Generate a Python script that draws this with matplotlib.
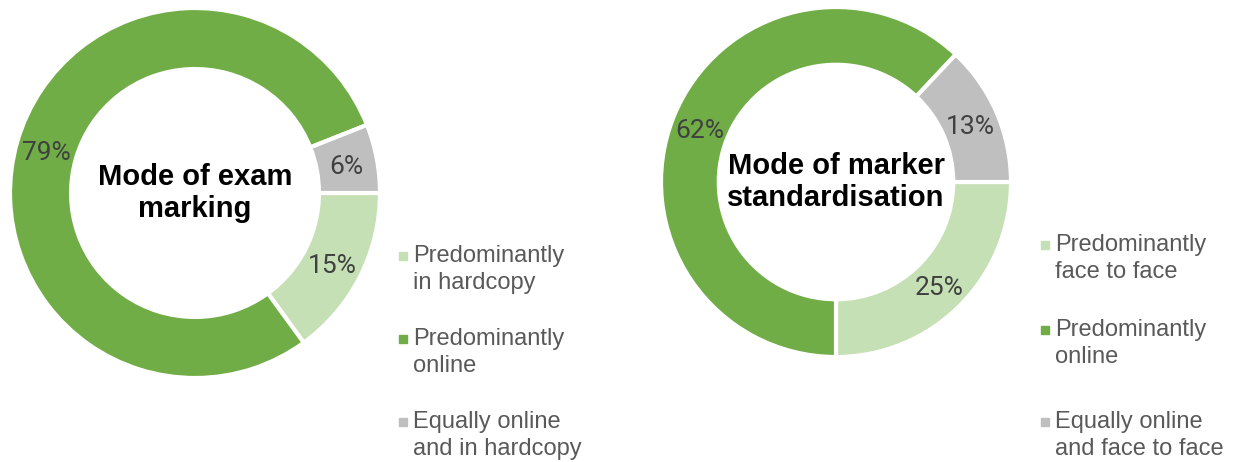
import matplotlib.pyplot as plt
from matplotlib.patches import Rectangle


# ============================================================
# DATA
# ============================================================

marking_labels = [
    "Predominantly\nin hardcopy",
    "Predominantly\nonline",
    "Equally online\nand in hardcopy",
]
marking_values = [15, 79, 6]

standard_labels = [
    "Predominantly\nface to face",
    "Predominantly\nonline",
    "Equally online\nand face to face",
]
standard_values = [25, 62, 13]

titles = ["Mode of exam\nmarking", "Mode of marker\nstandardisation"]

colors = ["#C5E0B4", "#70AD47", "#BFBFBF"]


# ============================================================
# FIGURE
# ============================================================

W, H = 1234, 462

fig = plt.figure(figsize=(W / 100, H / 100), dpi=100)


def donut(cx, cy, r, values, title, ring=0.33):

    # axes box in figure fractions, pie radius 1 == r pixels
    ax = fig.add_axes([
        (cx - r) / W,
        (H - cy - r) / H,
        2 * r / W,
        2 * r / H,
    ])

    wedges, _, autotexts = ax.pie(
        values,
        colors=colors,
        startangle=0,
        counterclock=False,
        radius=1,
        autopct="%d%%",
        pctdistance=1 - ring / 2,
        wedgeprops=dict(width=ring, edgecolor="white", linewidth=3),
        textprops=dict(color="#404040", fontsize=19, family="Roboto"),
    )

    # nudge labels down a touch, like the original
    for t in autotexts:
        x, y = t.get_position()
        t.set_position((x, y - 0.015))

    ax.set_xlim(-1, 1)
    ax.set_ylim(-1, 1)
    ax.set_aspect("equal")
    ax.axis("off")

    ax.text(
        0, 0, title,
        ha="center", va="center",
        fontsize=21, fontweight="bold",
        family="Liberation Sans",
        linespacing=1.2,
    )

    return ax


def legend(x, ys, labels):

    for y, label, color in zip(ys, labels, colors):

        fig.add_artist(Rectangle(
            ((x - 4) / W, (H - y - 4) / H),
            8 / W,
            8 / H,
            color=color,
            transform=fig.transFigure,
        ))

        for i, line in enumerate(label.split("\n")):
            fig.text(
                (x + 10) / W,
                (H - y - i * 27) / H,
                line,
                ha="left", va="center",
                fontsize=17, color="#595959",
                family="Liberation Sans",
            )


# ============================================================
# LEFT DONUT
# ============================================================

donut(195, 193, 185, marking_values, titles[0])
legend(403, [256, 339, 422], marking_labels)

# ============================================================
# RIGHT DONUT
# ============================================================

donut(836, 182, 175, standard_values, titles[1])
legend(1045, [245, 330, 422], standard_labels)

fig.savefig("out.png", dpi=100)
